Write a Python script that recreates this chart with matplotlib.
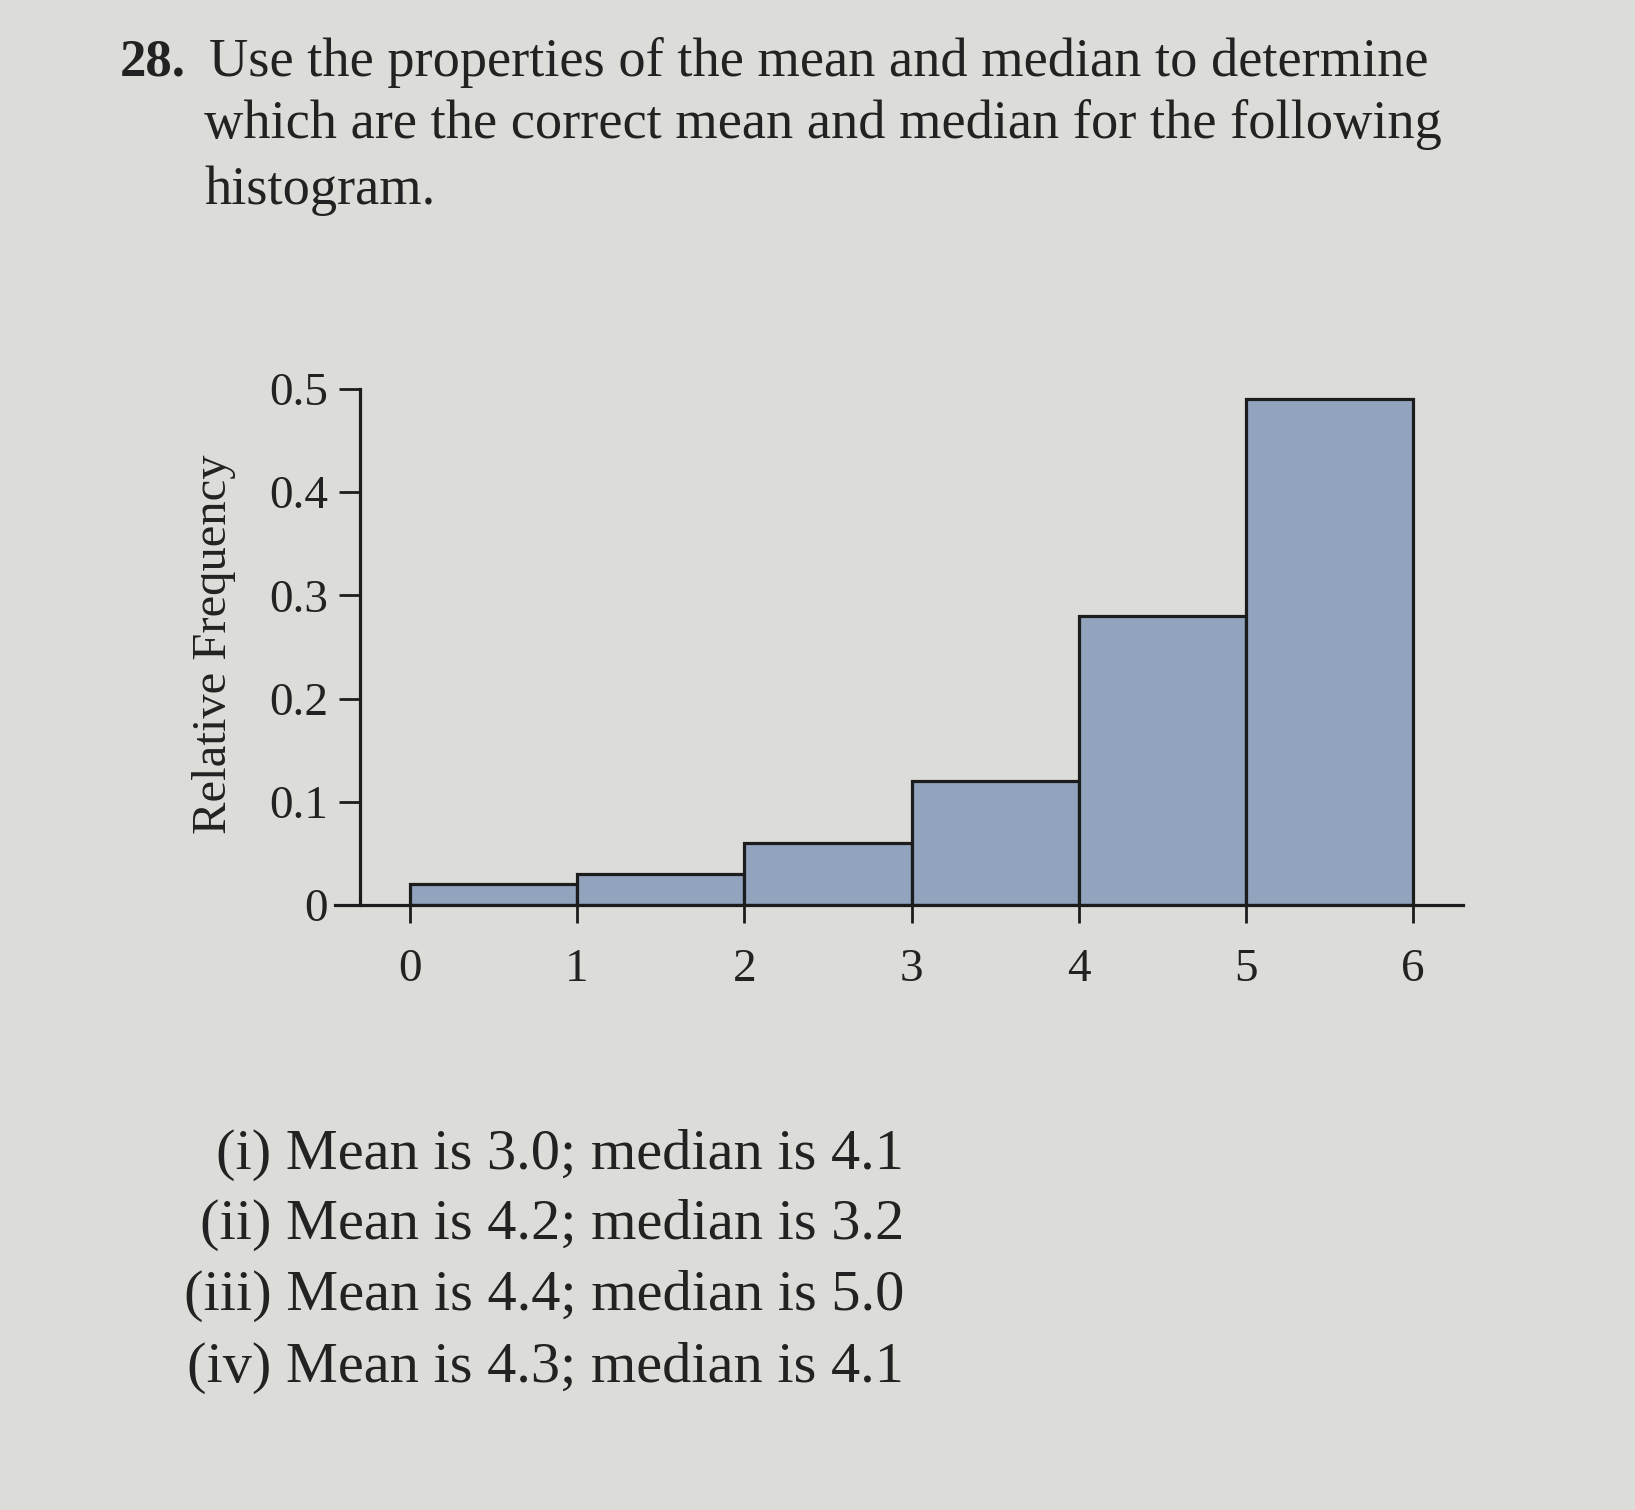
import matplotlib
matplotlib.use("Agg")
import matplotlib.pyplot as plt

# histogram data
bin_edges = [0, 1, 2, 3, 4, 5, 6]
rel_freq = [0.02, 0.03, 0.06, 0.12, 0.28, 0.49]
x_ticks = [0, 1, 2, 3, 4, 5, 6]
y_ticks = [0, 0.1, 0.2, 0.3, 0.4, 0.5]
y_tick_labels = ["0", "0.1", "0.2", "0.3", "0.4", "0.5"]

question_lines = [
    "Use the properties of the mean and median to determine",
    "which are the correct mean and median for the following",
    "histogram.",
]
answers = [
    "(i) Mean is 3.0; median is 4.1",
    "(ii) Mean is 4.2; median is 3.2",
    "(iii) Mean is 4.4; median is 5.0",
    "(iv) Mean is 4.3; median is 4.1",
]

paper = "#dcddd9"
bar_color = "#92a3bd"
ink = "#222222"
line_col = "#1c1c1c"

plt.rcParams["font.family"] = ["Liberation Serif", "DejaVu Serif"]

W, H = 1635, 1510
fig = plt.figure(figsize=(W / 100, H / 100), dpi=100, facecolor=paper)

# question text
fig.text(120 / W, 1 - 62 / H, "28.", fontsize=38, fontweight="bold", color=ink,
         va="center", ha="left")
line_y = [62, 124, 191]
line_x = [209, 204, 204]
for txt, yy, xx in zip(question_lines, line_y, line_x):
    fig.text(xx / W, 1 - yy / H, txt, fontsize=39.2, color=ink, va="center", ha="left")

# histogram axes
x_left, x_right = 326.4, 1496.6
y_base, y_top = 905, 389
ax = fig.add_axes([x_left / W, 1 - y_base / H, (x_right - x_left) / W, (y_base - y_top) / H])
ax.set_facecolor("none")
widths = [b - a for a, b in zip(bin_edges[:-1], bin_edges[1:])]
ax.bar(bin_edges[:-1], rel_freq, width=widths, align="edge", color=bar_color,
       edgecolor=line_col, linewidth=2.3, zorder=2)

ax.set_xlim(-0.5, 6.5)
ax.set_ylim(0, 0.5)
for s in ["top", "right"]:
    ax.spines[s].set_visible(False)
ax.spines["left"].set_position(("data", -0.3))
ax.spines["left"].set_bounds(0, 0.5)
ax.spines["bottom"].set_bounds(-0.45, 6.3)
for s in ["left", "bottom"]:
    ax.spines[s].set_linewidth(2.3)
    ax.spines[s].set_color(line_col)
    ax.spines[s].set_zorder(3)

ax.set_xticks(x_ticks)
ax.set_xticklabels([str(t) for t in x_ticks])
ax.set_yticks(y_ticks)
ax.set_yticklabels(y_tick_labels)
ax.tick_params(axis="both", direction="out", width=2.0, color=line_col,
               labelsize=34, labelcolor=ink)
ax.tick_params(axis="x", length=13, pad=18)
ax.tick_params(axis="y", length=15, pad=8)

fig.text(214 / W, 1 - 644 / H, "Relative Frequency", fontsize=35, color=ink,
         rotation=90, ha="center", va="center")

# answer choices, right aligned like the page
ans_y = [1155, 1225, 1296, 1368]
for txt, yy in zip(answers, ans_y):
    fig.text(904 / W, 1 - yy / H, txt, fontsize=42, color=ink, va="center", ha="right")

fig.savefig("out.png", dpi=100, facecolor=paper)
